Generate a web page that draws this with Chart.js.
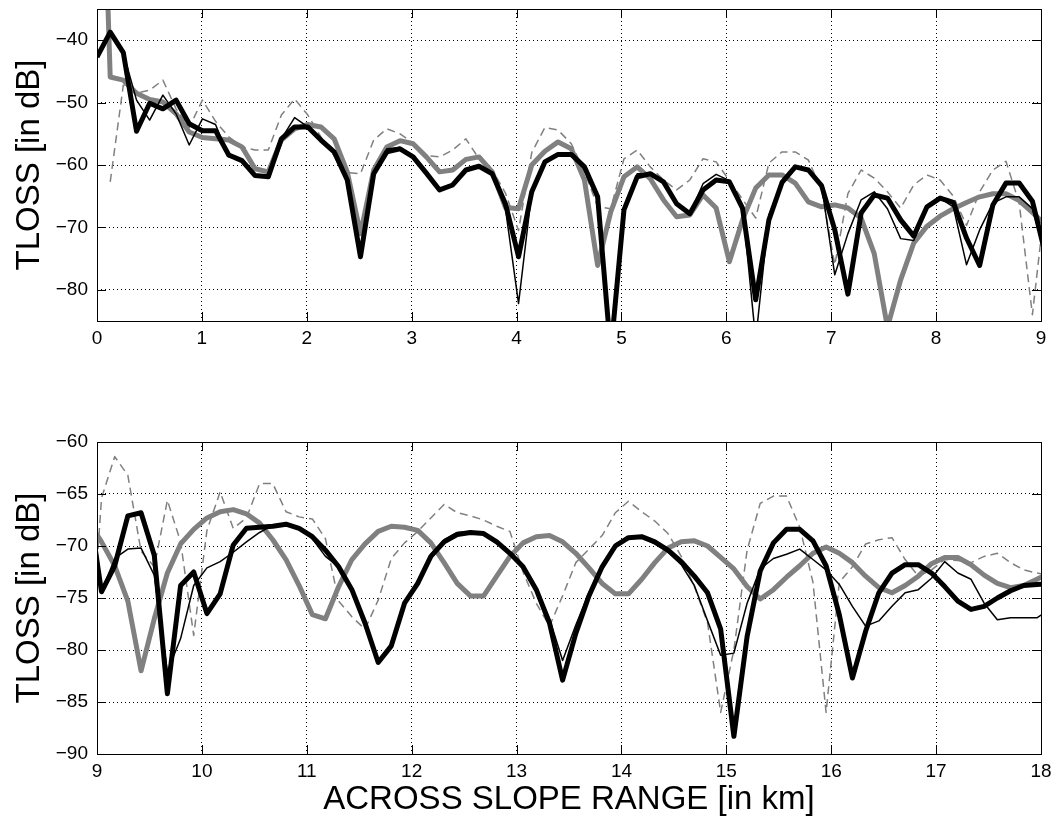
<!DOCTYPE html>
<html>
<head>
<meta charset="utf-8">
<script src="https://cdn.jsdelivr.net/npm/chart.js@4.4.0/dist/chart.umd.min.js"></script>
<style>
  body { margin: 0; background: #fff; }
  .holder { position: relative; width: 1056px; height: 824px; background: #fff; }
  canvas { position: absolute; left: 0; }
  #top { top: 0; }
  #bottom { top: 390px; }
</style>
</head>
<body>
<div class="holder">
  <canvas id="top" width="1056" height="390"></canvas>
  <canvas id="bottom" width="1056" height="434"></canvas>
</div>
<script>
// across slope range samples, km
const rangeKm = [
  0, 0.126, 0.251, 0.377, 0.502, 0.628, 0.754, 0.879, 1.005, 1.130,
  1.256, 1.382, 1.507, 1.633, 1.758, 1.884, 2.010, 2.135, 2.261, 2.386,
  2.512, 2.638, 2.763, 2.889, 3.014, 3.140, 3.266, 3.391, 3.517, 3.642,
  3.768, 3.894, 4.019, 4.145, 4.270, 4.396, 4.522, 4.647, 4.773, 4.898,
  5.024, 5.150, 5.275, 5.401, 5.526, 5.652, 5.778, 5.903, 6.029, 6.154,
  6.280, 6.406, 6.531, 6.657, 6.782, 6.908, 7.034, 7.159, 7.285, 7.410,
  7.536, 7.662, 7.787, 7.913, 8.038, 8.164, 8.290, 8.415, 8.541, 8.666,
  8.792, 8.918, 9.043, 9.169, 9.294, 9.420, 9.546, 9.671, 9.797, 9.922,
  10.048, 10.174, 10.299, 10.425, 10.550, 10.676, 10.802, 10.927, 11.053, 11.178,
  11.304, 11.430, 11.555, 11.681, 11.806, 11.932, 12.058, 12.183, 12.309, 12.434,
  12.560, 12.686, 12.811, 12.937, 13.062, 13.188, 13.314, 13.439, 13.565, 13.690,
  13.816, 13.942, 14.067, 14.193, 14.318, 14.444, 14.570, 14.695, 14.821, 14.946,
  15.072, 15.198, 15.323, 15.449, 15.574, 15.700, 15.826, 15.951, 16.077, 16.202,
  16.328, 16.454, 16.579, 16.705, 16.830, 16.956, 17.082, 17.207, 17.333, 17.458,
  17.584, 17.710, 17.835, 17.961, 18.086
];

// TLOSS in dB, thick black
const tlossThickBlack = [
  -42.7, -38.7, -42.0, -54.6, -50.1, -51.0, -49.6, -53.4, -54.5, -54.5,
  -58.4, -59.3, -61.7, -61.9, -55.8, -53.9, -53.9, -56.0, -57.9, -62.4,
  -74.7, -61.4, -57.9, -57.4, -58.7, -61.3, -64.0, -63.2, -60.8, -60.2,
  -61.4, -66.2, -74.7, -64.3, -59.5, -58.3, -58.3, -60.3, -65.1, -90.0,
  -67.2, -61.9, -61.4, -62.7, -66.2, -67.8, -64.0, -62.4, -62.7, -66.9,
  -81.6, -68.8, -62.8, -60.3, -60.8, -63.3, -70.4, -80.7, -67.7, -64.8,
  -65.3, -68.8, -71.4, -66.7, -65.3, -66.0, -71.7, -76.1, -66.4, -62.9,
  -62.9, -65.8, -74.4, -71.9, -67.1, -66.8, -70.9, -84.2, -73.8, -72.5,
  -76.5, -74.6, -69.9, -68.3, -68.2, -68.1, -67.9, -68.3, -69.1, -70.4,
  -72.0, -74.2, -77.4, -81.2, -79.6, -75.5, -73.6, -71.0, -69.6, -68.9,
  -68.7, -68.8, -69.6, -70.7, -72.0, -74.2, -77.4, -82.9, -78.4, -74.8,
  -72.0, -70.0, -69.2, -69.1, -69.6, -70.4, -71.5, -72.9, -74.5, -78.0,
  -88.3, -78.7, -72.4, -69.7, -68.4, -68.4, -69.5, -71.9, -76.6, -82.7,
  -78.2, -74.5, -72.6, -71.8, -71.8, -72.6, -73.9, -75.3, -76.1, -75.8,
  -75.0, -74.3, -73.8, -73.7, -73.6
];

// thin black
const tlossThinBlack = [
  -42.7, -38.7, -42.0, -49.6, -52.8, -48.8, -51.8, -56.8, -52.6, -53.5,
  -58.7, -59.3, -61.7, -61.9, -55.8, -52.4, -53.9, -56.0, -57.9, -62.4,
  -74.7, -61.4, -57.4, -57.2, -58.7, -61.3, -64.0, -63.0, -60.6, -60.0,
  -61.4, -67.0, -82.2, -64.3, -59.5, -58.3, -58.3, -60.3, -65.1, -90.0,
  -67.2, -61.4, -61.4, -62.7, -66.2, -67.8, -63.0, -61.5, -62.5, -66.5,
  -88.0, -68.0, -62.8, -60.3, -60.8, -63.3, -77.6, -71.0, -65.6, -64.3,
  -67.0, -71.8, -72.1, -66.7, -65.3, -66.7, -76.0, -70.4, -66.1, -65.1,
  -65.1, -67.0, -74.4, -71.2, -70.3, -70.2, -72.8, -82.1, -78.9, -73.8,
  -72.1, -71.5, -70.6, -69.6, -68.7, -68.0, -67.8, -68.3, -69.3, -71.0,
  -72.0, -74.2, -77.4, -81.2, -79.6, -75.5, -73.3, -70.8, -69.4, -68.7,
  -68.6, -68.8, -69.6, -70.7, -72.0, -74.0, -77.0, -81.0, -77.6, -74.5,
  -71.8, -69.8, -69.1, -69.2, -69.8, -70.6, -71.8, -73.8, -77.2, -80.5,
  -80.3, -75.5, -72.2, -71.2, -70.8, -70.3, -71.3, -72.3, -73.7, -75.8,
  -77.7, -77.2, -75.8, -74.5, -74.2, -73.1, -71.5, -72.6, -73.2, -75.5,
  -77.1, -76.9, -76.9, -76.9, -76.1
];

// thick grey
const tlossThickGray = [
  20, -45.9, -46.4, -48.5, -49.5, -49.9, -51.8, -54.7, -55.6, -55.8,
  -56.0, -57.1, -60.6, -61.1, -56.0, -54.2, -53.5, -53.9, -55.8, -61.1,
  -71.0, -60.8, -57.1, -56.1, -56.6, -58.7, -61.1, -60.8, -59.1, -58.7,
  -61.1, -66.8, -67.0, -60.0, -57.8, -56.3, -57.4, -62.4, -76.1, -67.5,
  -61.9, -60.3, -62.2, -65.6, -68.3, -68.0, -64.8, -66.9, -75.5, -68.8,
  -63.7, -61.6, -61.6, -62.9, -65.9, -66.7, -66.4, -66.9, -68.5, -74.2,
  -86.0, -78.4, -72.5, -69.8, -68.2, -67.0, -66.0, -65.1, -64.6, -64.6,
  -65.7, -67.6, -69.6, -71.9, -75.3, -82.0, -77.0, -72.6, -69.8, -68.4,
  -67.3, -66.7, -66.5, -66.9, -67.8, -69.4, -71.3, -73.8, -76.6, -77.0,
  -73.9, -71.3, -69.8, -68.6, -68.1, -68.2, -68.5, -69.7, -71.6, -73.6,
  -74.8, -74.8, -72.9, -71.0, -69.7, -69.1, -69.0, -69.6, -70.7, -72.1,
  -73.6, -74.6, -74.6, -73.2, -71.6, -70.2, -69.6, -69.5, -70.0, -71.1,
  -72.2, -73.9, -75.1, -74.2, -73.0, -71.9, -70.7, -70.1, -70.7, -71.6,
  -72.9, -74.0, -74.5, -73.8, -72.9, -71.7, -71.1, -71.1, -71.8, -72.8,
  -73.6, -74.0, -73.8, -73.2, -72.6
];

// thin dashed grey
const tlossDashedGray = [
  null, -62.7, -47.2, -48.5, -48.0, -46.4, -51.0, -54.0, -49.6, -53.0,
  -55.5, -57.1, -57.6, -57.6, -52.0, -49.4, -52.0, -55.5, -58.5, -61.2,
  -61.4, -56.0, -54.2, -55.0, -56.5, -58.5, -58.7, -57.6, -55.8, -59.0,
  -60.8, -64.5, -70.5, -58.0, -54.0, -54.4, -56.6, -61.0, -66.7, -67.0,
  -59.0, -57.6, -60.3, -62.4, -64.0, -62.4, -59.0, -59.5, -62.5, -65.5,
  -68.5, -59.7, -57.9, -57.9, -59.2, -64.0, -76.0, -64.6, -60.8, -62.1,
  -64.3, -66.9, -63.2, -61.6, -62.4, -65.0, -69.7, -64.3, -60.8, -59.4,
  -66.1, -84.0, -65.4, -61.4, -63.2, -70.5, -72.0, -65.6, -69.6, -78.6,
  -68.5, -64.8, -68.3, -67.3, -64.0, -64.0, -66.7, -67.2, -67.4, -69.3,
  -75.3, -76.8, -78.0, -75.2, -71.2, -69.7, -68.6, -67.3, -66.0, -66.8,
  -67.1, -67.5, -68.1, -68.6, -72.5, -75.5, -77.7, -74.8, -71.6, -70.3,
  -69.0, -66.8, -65.7, -66.7, -67.6, -68.8, -71.0, -73.9, -77.4, -86.0,
  -80.0, -70.4, -65.9, -65.2, -65.2, -68.2, -73.5, -86.0, -73.5, -72.0,
  -69.8, -69.4, -69.2, -71.3, -72.9, -72.3, -71.3, -71.4, -71.6, -71.0,
  -70.7, -71.6, -72.3, -72.6, -72.8
];

const xTicksTop = [0, 1, 2, 3, 4, 5, 6, 7, 8, 9];
const xTicksBottom = [9, 10, 11, 12, 13, 14, 15, 16, 17, 18];
const yTicksTop = [-80, -70, -60, -50, -40];
const yTicksBottom = [-90, -85, -80, -75, -70, -65, -60];

const fontFamily = '"Liberation Sans", Arial, Helvetica, sans-serif';
const tickFont = { family: fontFamily, size: 19 };
const titleFont = { family: fontFamily, size: 33 };

// box round the axes plus matlab style inner tick marks
const matlabAxes = {
    id: 'matlabAxes',
    afterDraw(chart) {
        const ctx = chart.ctx;
        const a = chart.chartArea;
        const xs = chart.scales.x, ys = chart.scales.y;
        const tl = 9;
        ctx.save();
        ctx.strokeStyle = '#000';
        ctx.lineWidth = 1;
        ctx.beginPath();
        xs.ticks.forEach((t) => {
            let px = Math.round(xs.getPixelForValue(t.value)) + 0.5;
            ctx.moveTo(px, a.bottom); ctx.lineTo(px, a.bottom - tl);
            ctx.moveTo(px, a.top); ctx.lineTo(px, a.top + tl);
        });
        ys.ticks.forEach((t) => {
            let py = Math.round(ys.getPixelForValue(t.value)) + 0.5;
            ctx.moveTo(a.left, py); ctx.lineTo(a.left + tl, py);
            ctx.moveTo(a.right, py); ctx.lineTo(a.right - tl, py);
        });
        ctx.stroke();
        ctx.strokeRect(Math.round(a.left) + 0.5, Math.round(a.top) + 0.5,
            Math.round(a.right - a.left), Math.round(a.bottom - a.top));
        ctx.restore();
    }
};

function lineSet(values, color, width, dash, order) {
    return {
        data: rangeKm.map((x, i) => ({ x: x, y: values[i] })),
        borderColor: color,
        borderWidth: width,
        borderDash: dash,
        borderJoinStyle: 'round',
        borderCapStyle: 'butt',
        pointRadius: 0,
        tension: 0,
        fill: false,
        clip: 0,
        order: order
    };
}

function minusSign(v) {
    return String(v).replace('-', '\u2212');
}

function createPanel(id, xMin, xMax, xTicks, yMin, yMax, yTicks, padTop, axisHeight, showXTitle) {
    let ctx = document.getElementById(id).getContext('2d');
    return new Chart(ctx, {
        type: 'line',
        data: {
            datasets: [
                lineSet(tlossThinBlack, '#000000', 1.5, [], 0),
                lineSet(tlossThickBlack, '#000000', 5, [], 1),
                lineSet(tlossThickGray, '#808080', 5, [], 2),
                lineSet(tlossDashedGray, '#808080', 1.5, [8, 5], 3)
            ]
        },
        options: {
            responsive: false,
            animation: false,
            events: [],
            layout: { padding: { top: padTop, right: 15, left: 0, bottom: 0 } },
            plugins: { legend: { display: false }, tooltip: { enabled: false } },
            scales: {
                x: {
                    type: 'linear',
                    min: xMin,
                    max: xMax,
                    afterBuildTicks: (s) => { s.ticks = xTicks.map((v) => ({ value: v })); },
                    afterFit: (s) => { s.height = axisHeight; s.paddingLeft = 0; s.paddingRight = 0; },
                    grid: { color: '#000', lineWidth: 1, drawTicks: false },
                    border: { display: false, dash: [1, 3] },
                    ticks: { color: '#000', font: tickFont, padding: 6, maxRotation: 0, autoSkip: false },
                    title: {
                        display: showXTitle,
                        text: 'ACROSS SLOPE RANGE [in km]',
                        color: '#000',
                        font: titleFont,
                        padding: { top: 0, bottom: 4 }
                    }
                },
                y: {
                    type: 'linear',
                    min: yMin,
                    max: yMax,
                    afterBuildTicks: (s) => { s.ticks = yTicks.map((v) => ({ value: v })); },
                    afterFit: (s) => { s.width = 97; s.paddingTop = 0; s.paddingBottom = 0; },
                    grid: { color: '#000', lineWidth: 1, drawTicks: false },
                    border: { display: false, dash: [1, 3] },
                    ticks: { color: '#000', font: tickFont, padding: 9, callback: minusSign },
                    title: {
                        display: true,
                        text: 'TLOSS [in dB]',
                        color: '#000',
                        font: titleFont,
                        padding: { top: 10, bottom: 0 }
                    }
                }
            }
        },
        plugins: [matlabAxes]
    });
}

createPanel('top', 0, 9, xTicksTop, -85, -35, yTicksTop, 9, 69, false);
createPanel('bottom', 9, 18, xTicksBottom, -90, -60, yTicksBottom, 52, 70, true);
</script>
</body>
</html>
